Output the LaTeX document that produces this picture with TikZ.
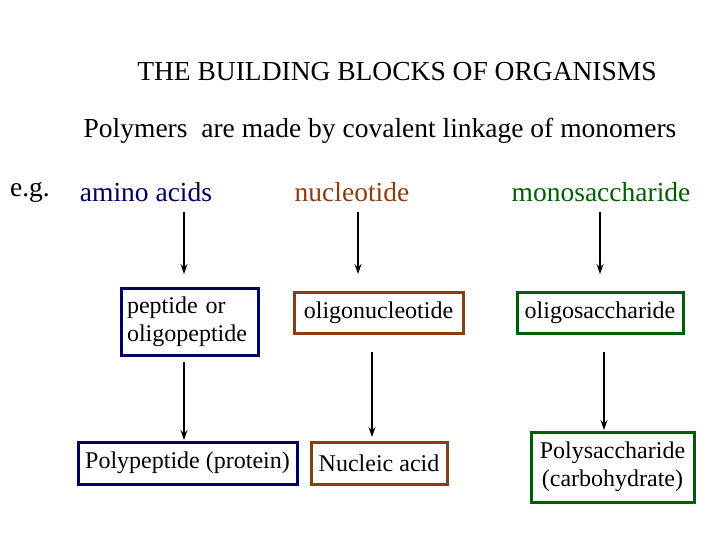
\documentclass[tikz,border=0pt]{standalone}
\usepackage{fontspec}
\setmainfont{Liberation Serif}
\definecolor{navy}{RGB}{0,0,102}
\definecolor{brn}{RGB}{140,60,15}
\definecolor{grn}{RGB}{0,96,0}
\tikzset{
 big/.style={font=\fontsize{27.5}{32}\selectfont},
 boxn/.style={draw,line width=3pt,font=\fontsize{24}{28}\selectfont,inner sep=0pt,align=left},
 arr/.style={-{Stealth[length=10pt,width=7pt]},line width=1.3pt}
}
\usetikzlibrary{arrows.meta}
\begin{document}
\begin{tikzpicture}[x=1pt,y=-1pt]
\useasboundingbox (0,0) rectangle (720,540);
\node[big] (title) at (397,72) {THE BUILDING BLOCKS OF ORGANISMS};
\node[big] (poly) at (380,131) {Polymers\enspace are made by covalent linkage of monomers};
\node[big] (eg) at (30,192) {e.g.};
\node[big,text=navy] (aa) at (146,192) {amino acids};
\node[big,text=brn] (nt) at (352,192) {nucleotide};
\node[big,text=grn] (ms) at (601,192) {monosaccharide};
\node[boxn,draw=navy,minimum width=137pt,minimum height=67pt,text width=125pt] (pep) at (189.5,321.5) {peptide or\\oligopeptide};
\node[boxn,draw=brn,minimum width=169pt,minimum height=41pt,align=center] (on) at (378.5,312.5) {oligonucleotide};
\node[boxn,draw=grn,minimum width=166pt,minimum height=41pt,align=center] (os) at (600,312.5) {oligosaccharide};
\node[boxn,draw=navy,minimum width=219pt,minimum height=42pt,align=center] (pp) at (187.5,463) {Polypeptide (protein)};
\node[boxn,draw=brn,minimum width=136pt,minimum height=42pt,align=center] (na) at (379,463) {Nucleic acid};
\node[boxn,draw=grn,minimum width=163pt,minimum height=70pt,align=center] (ps) at (612.5,467) {Polysaccharide\\(carbohydrate)};
\coordinate (a1) at (184,212); \coordinate (a2) at (184,274);
\coordinate (b1) at (358,212); \coordinate (b2) at (358,274);
\coordinate (c1) at (600,212); \coordinate (c2) at (600,274);
\coordinate (d1) at (184,362); \coordinate (d2) at (184,440);
\coordinate (e1) at (372,352); \coordinate (e2) at (372,437);
\coordinate (f1) at (604,352); \coordinate (f2) at (604,430);
\draw[arr] (a1) -- (a2);
\draw[arr] (b1) -- (b2);
\draw[arr] (c1) -- (c2);
\draw[arr] (d1) -- (d2);
\draw[arr] (e1) -- (e2);
\draw[arr] (f1) -- (f2);
\end{tikzpicture}
\end{document}
